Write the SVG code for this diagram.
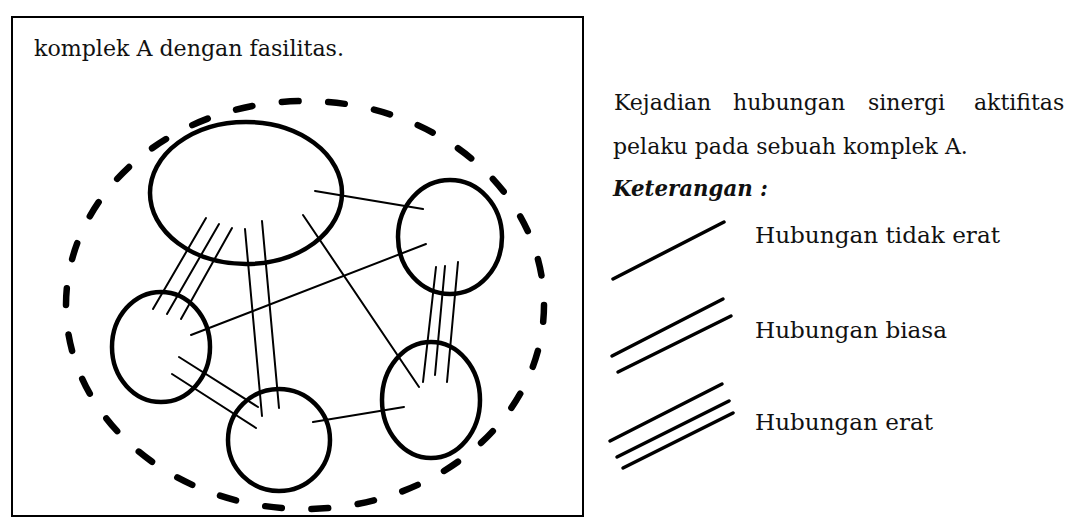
<svg xmlns="http://www.w3.org/2000/svg" width="1075" height="521" viewBox="0 0 1075 521">
<style>
text{font-family:"DejaVu Serif","Liberation Serif",serif;font-size:22px;fill:#111}
.node{fill:none;stroke:#000;stroke-width:4.5}
.c{stroke:#000;stroke-width:2;stroke-linecap:round;fill:none}
.lg{stroke:#000;stroke-width:3.5;stroke-linecap:round}
.dash{fill:none;stroke:#000;stroke-width:6.5;stroke-linecap:round;stroke-dasharray:3.6 6.4}
</style>
<rect x="12" y="17" width="571" height="499" fill="none" stroke="#000" stroke-width="2"/>
<text x="34" y="56" textLength="310" lengthAdjust="spacingAndGlyphs">komplek A dengan fasilitas.</text>
<g id="boundary"><ellipse class="dash" cx="305" cy="305" rx="239" ry="204" pathLength="300"/></g>
<g id="node-main"><ellipse class="node" cx="246" cy="193" rx="96" ry="71"/></g>
<g id="node-topright"><ellipse class="node" cx="450" cy="237" rx="52" ry="57"/></g>
<g id="node-left"><ellipse class="node" cx="161" cy="347" rx="49" ry="55"/></g>
<g id="node-bottom"><ellipse class="node" cx="279" cy="440" rx="51" ry="51"/></g>
<g id="node-bottomright"><ellipse class="node" cx="431" cy="400" rx="49" ry="58"/></g>
<g id="connectors">
<line class="c" x1="315" y1="191" x2="423" y2="209"/>
<line class="c" x1="206" y1="218" x2="153" y2="309"/>
<line class="c" x1="219" y1="224" x2="167" y2="314"/>
<line class="c" x1="232" y1="228" x2="181" y2="319"/>
<line class="c" x1="245" y1="229" x2="262" y2="416"/>
<line class="c" x1="262" y1="221" x2="279" y2="408"/>
<line class="c" x1="303" y1="215" x2="419" y2="387"/>
<line class="c" x1="191" y1="335" x2="426" y2="244"/>
<line class="c" x1="179" y1="357" x2="258" y2="407"/>
<line class="c" x1="172" y1="374" x2="256" y2="428"/>
<line class="c" x1="313" y1="422" x2="404" y2="407"/>
<line class="c" x1="436" y1="267" x2="423" y2="382"/>
<line class="c" x1="445" y1="266" x2="435" y2="375"/>
<line class="c" x1="458" y1="262" x2="447" y2="382"/>
</g>
<g id="description">
<text y="110"><tspan x="614">Kejadian</tspan><tspan x="733">hubungan</tspan><tspan x="868">sinergi</tspan><tspan x="974">aktifitas</tspan></text>
<text x="613" y="154">pelaku pada sebuah komplek A.</text>
<text x="613" y="196" font-weight="bold" font-style="italic" textLength="155" lengthAdjust="spacingAndGlyphs">Keterangan :</text>
</g>
<g id="legend">
<line class="lg" x1="613" y1="279" x2="724" y2="222"/>
<text x="755" y="243" textLength="245" lengthAdjust="spacingAndGlyphs">Hubungan tidak erat</text>
<line class="lg" x1="612" y1="356" x2="723" y2="299"/>
<line class="lg" x1="618" y1="372" x2="731" y2="316"/>
<text x="755" y="338" textLength="192" lengthAdjust="spacingAndGlyphs">Hubungan biasa</text>
<line class="lg" x1="610" y1="441" x2="722" y2="384"/>
<line class="lg" x1="617" y1="457" x2="729" y2="401"/>
<line class="lg" x1="623" y1="468" x2="733" y2="413"/>
<text x="755" y="430" textLength="178" lengthAdjust="spacingAndGlyphs">Hubungan erat</text>
</g>
</svg>
